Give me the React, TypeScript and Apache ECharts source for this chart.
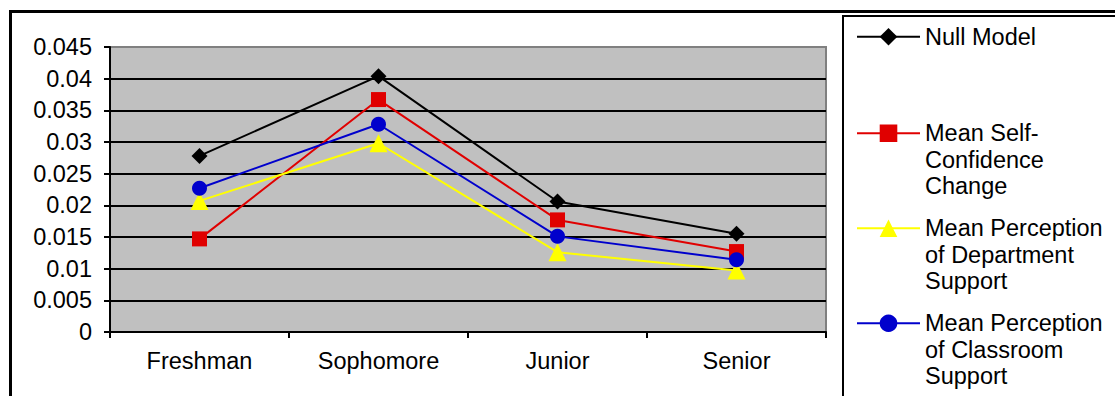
import React, { useEffect, useRef } from 'react';
import * as echarts from 'echarts';

const categories = ['Freshman', 'Sophomore', 'Junior', 'Senior'];
const nullModel = [0.0278, 0.0404, 0.0206, 0.0155];
const selfConfidence = [0.0147, 0.0367, 0.0177, 0.0127];
const deptSupport = [0.0207, 0.0298, 0.0126, 0.0097];
const classroomSupport = [0.0227, 0.0328, 0.0151, 0.0114];

const yMin = 0;
const yMax = 0.045;
const yInterval = 0.005;

const seriesNames = [
  'Null Model',
  'Mean Self-Confidence Change',
  'Mean Perception of Department Support',
  'Mean Perception of Classroom Support',
];
const legendLabels = [
  'Null Model',
  'Mean Self-\nConfidence\nChange',
  'Mean Perception\nof Department\nSupport',
  'Mean Perception\nof Classroom\nSupport',
];
const seriesData = [nullModel, selfConfidence, deptSupport, classroomSupport];
const seriesColors = ['#000000', '#E00000', '#FFFF00', '#0000CC'];
const seriesSymbols = ['diamond', 'rect', 'triangle', 'circle'];
const symbolSizes = [16, 15, 18, 15];
const legendTops = [23.5, 67, 162, 257];

const FONT = '"Liberation Sans", Arial, sans-serif';

export default function App() {
  const ref = useRef<HTMLDivElement>(null);

  useEffect(() => {
    if (!ref.current) return;
    const chart = echarts.init(ref.current, undefined, { renderer: 'svg' });
    const lineH = 26.5;
    const option: any = {
      animation: false,
      backgroundColor: '#ffffff',
      textStyle: { fontFamily: FONT },
      grid: {
        left: 110,
        top: 47,
        right: 289,
        bottom: 64,
        show: true,
        backgroundColor: '#C0C0C0',
        borderColor: '#808080',
        borderWidth: 2,
      },
      xAxis: {
        type: 'category',
        data: categories,
        boundaryGap: true,
        axisLine: { show: true, lineStyle: { color: '#000', width: 2 } },
        axisTick: { show: true, length: 6, inside: false, lineStyle: { color: '#000', width: 2 } },
        axisLabel: { color: '#000', fontSize: 23.5, fontFamily: FONT, margin: 17 },
        splitLine: { show: false },
      },
      yAxis: {
        type: 'value',
        min: yMin,
        max: yMax,
        interval: yInterval,
        axisLine: { show: true, lineStyle: { color: '#000', width: 2 } },
        axisTick: { show: true, length: 6, inside: false, lineStyle: { color: '#000', width: 2 } },
        axisLabel: {
          color: '#000',
          fontSize: 23.5,
          fontFamily: FONT,
          margin: 18,
          formatter: (v: number) => (v === 0 ? '0' : String(parseFloat(v.toFixed(3)))),
        },
        splitLine: {
          show: true,
          lineStyle: {
            color: ['#000', '#000', '#000', '#000', '#000', '#000', '#000', '#000', '#000', '#808080'],
            width: 2,
          },
        },
      },
      legend: seriesNames.map((name, i) => ({
        orient: 'vertical',
        left: 856,
        top: legendTops[i],
        padding: 0,
        itemWidth: 63,
        itemHeight: 22,
        selectedMode: false,
        data: [name],
        formatter: () =>
          legendLabels[i].includes('\n') ? ' \n \n' + legendLabels[i] : legendLabels[i],
        textStyle: {
          color: '#000',
          fontSize: 23.5,
          fontFamily: FONT,
          lineHeight: lineH,
        },
      })),
      graphic: [
        {
          type: 'rect',
          shape: { x: 10.5, y: 11.5, width: 1300, height: 600 },
          style: { fill: 'none', stroke: '#000', lineWidth: 3 },
          silent: true,
        },
        {
          type: 'rect',
          shape: { x: 843, y: 16, width: 400, height: 600 },
          style: { fill: 'none', stroke: '#000', lineWidth: 2 },
          silent: true,
        },
      ],
      series: seriesNames.map((name, i) => ({
        name,
        type: 'line',
        data: seriesData[i],
        symbol: seriesSymbols[i],
        symbolSize: symbolSizes[i],
        showAllSymbol: true,
        lineStyle: { color: seriesColors[i], width: 2 },
        itemStyle: { color: seriesColors[i] },
        emphasis: { disabled: true },
        z: 3 + i,
      })),
    };
    chart.setOption(option);
    return () => chart.dispose();
  }, []);

  return (
    <div
      ref={ref}
      style={{ position: 'fixed', left: 0, top: 0, width: 1115, height: 396 }}
    />
  );
}
